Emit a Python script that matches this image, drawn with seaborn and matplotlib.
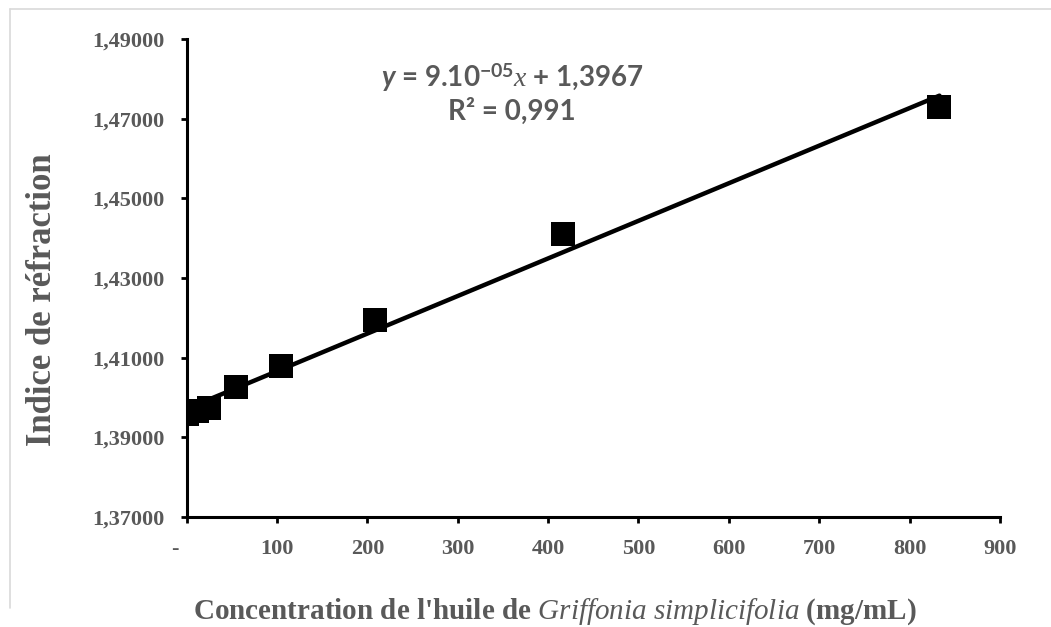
import numpy as np
import pandas as pd
import matplotlib
matplotlib.use("Agg")
import matplotlib.pyplot as plt
import seaborn as sns
from matplotlib.lines import Line2D
from matplotlib.ticker import FuncFormatter

# Données
concentration = [0, 12, 25, 55, 104, 208, 417, 833]
indice = [1.3958, 1.3965, 1.3974, 1.4026, 1.4079, 1.4194, 1.4410, 1.4729]
x_ticks = [0, 100, 200, 300, 400, 500, 600, 700, 800, 900]
y_ticks = [1.37, 1.39, 1.41, 1.43, 1.45, 1.47, 1.49]

df = pd.DataFrame({"conc": concentration, "ir": indice})

sns.set_theme(style="ticks")
plt.rcParams["font.family"] = ["Liberation Serif", "DejaVu Serif"]
plt.rcParams["mathtext.fontset"] = "custom"
plt.rcParams["mathtext.rm"] = "Lato:bold"
plt.rcParams["mathtext.bf"] = "Lato:italic:bold"
plt.rcParams["mathtext.it"] = "Liberation Serif:italic"

gris = "#595959"

fig = plt.figure(figsize=(10.51, 6.27), dpi=100)
ax = fig.add_axes([0.1775, 0.1755, 0.774, 0.762])

sns.regplot(data=df, x="conc", y="ir", ax=ax, ci=None, marker="s",
            scatter_kws={"s": 290, "color": "black", "alpha": 1, "zorder": 4, "linewidths": 0},
            line_kws={"color": "black", "lw": 3.2, "zorder": 3})

ax.set_xlim(0, 900)
ax.set_ylim(1.37, 1.49)
ax.set_xticks(x_ticks)
ax.set_yticks(y_ticks)

def fmt_x(v, p):
    # format comptable : zéro affiché comme un tiret
    return "-    " if v == 0 else f"{v:.0f}"

def fmt_y(v, p):
    return f"{v:.5f}".replace(".", ",")

ax.xaxis.set_major_formatter(FuncFormatter(fmt_x))
ax.yaxis.set_major_formatter(FuncFormatter(fmt_y))

for s in ["top", "right"]:
    ax.spines[s].set_visible(False)
for s in ["left", "bottom"]:
    ax.spines[s].set_color("black")
    ax.spines[s].set_linewidth(2.2)

ax.tick_params(axis="both", direction="out", length=4, width=2, color="black",
               labelsize=16, labelcolor=gris)
ax.tick_params(axis="y", pad=12)
ax.tick_params(axis="x", pad=12)
for lab in ax.get_xticklabels() + ax.get_yticklabels():
    lab.set_fontweight("bold")

ax.set_xlabel("Concentration de l'huile de $\\it{Griffonia\\ simplicifolia}$ (mg/mL)")
ax.set_ylabel("Indice de réfraction")
ax.xaxis.label.set(fontsize=21, fontweight="bold", color=gris, va="center")
ax.yaxis.label.set(fontsize=25, fontweight="bold", color=gris, va="center")
ax.xaxis.set_label_coords(0.453, -0.199)
ax.yaxis.set_label_coords(-0.177, 0.454)

# Équation de la droite
ax.text(0.40, 0.92, r"$\mathbf{y}$ = 9.10$^{\mathrm{-05}}$$x$ + 1,3967",
        transform=ax.transAxes, ha="center", va="center", fontsize=20,
        family="Lato", fontweight="bold", color=gris)
ax.text(0.40, 0.849, "R² = 0,991", transform=ax.transAxes, ha="center", va="center",
        fontsize=20, family="Lato", fontweight="bold", color=gris)

# Cadre gris du graphique
fig.add_artist(Line2D([10 / 1051, 1], [1 - 9 / 627, 1 - 9 / 627], color="#d9d9d9", lw=1.2))
fig.add_artist(Line2D([10 / 1051, 10 / 1051], [1 - 9 / 627, 1 - 608 / 627], color="#d9d9d9", lw=1.2))

fig.savefig("out.png", dpi=100, facecolor="white")
